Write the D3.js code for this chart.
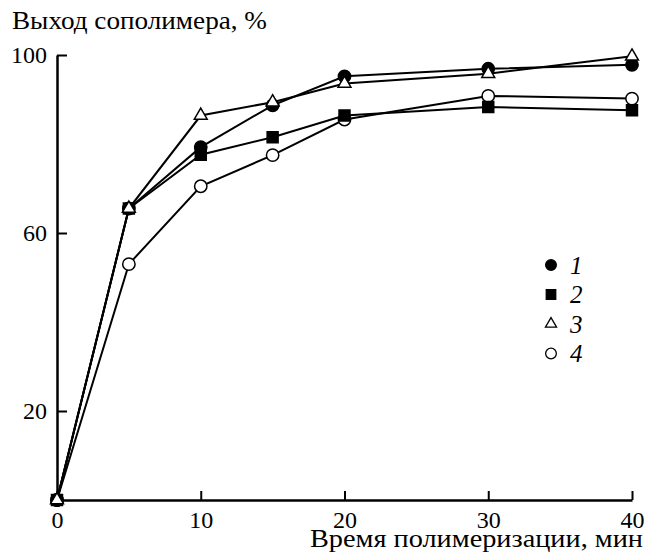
<!DOCTYPE html>
<html>
<head>
<meta charset="utf-8">
<script src="https://cdn.jsdelivr.net/npm/d3@7"></script>
</head>
<body style="margin:0;background:#fff">
<svg id="chart" width="647" height="558"></svg>
<script>
const times = [0, 5, 10, 15, 20, 30, 40]
const yield1 = [0, 65.5, 79.3, 88.7, 95.2, 96.9, 97.8]
const yield2 = [0, 65.5, 77.6, 81.5, 86.4, 88.3, 87.6]
const yield3 = [0, 65.5, 86.4, 89.4, 93.6, 95.8, 99.7]
const yield4 = [0, 53.0, 70.5, 77.5, 85.5, 90.8, 90.2]
const seriesNames = ['1', '2', '3', '4']
const xTicks = [0, 10, 20, 30, 40]
const yTicks = [20, 60, 100]

const FONT = "'Liberation Serif'"

const style = {
    pdg: { l: 57, r: 15, t: 55, b: 58 },
    W: 647, H: 558
}

const markers = {
    '1': { type: d3.symbolCircle, size: 120, fill: '#000' },
    '2': { type: d3.symbolSquare, size: 120, fill: '#000' },
    '3': { type: d3.symbolTriangle, size: 72, fill: '#fff' },
    '4': { type: d3.symbolCircle, size: 120, fill: '#fff' }
}

let series = [
    { name: '4', vals: yield4 },
    { name: '2', vals: yield2 },
    { name: '1', vals: yield1 },
    { name: '3', vals: yield3 }
]

let svg = d3.select('#chart')

let x = d3.scaleLinear().domain([0, 40]).range([style.pdg.l, style.W - style.pdg.r])
let y = d3.scaleLinear().domain([0, 100]).range([style.H - style.pdg.b, style.pdg.t])

let xAxis = d3.axisBottom(x).tickValues(xTicks).tickSize(-9).tickPadding(11).tickSizeOuter(0)
let yAxis = d3.axisLeft(y).tickValues(yTicks).tickSize(-10).tickPadding(10).tickSizeOuter(0)

let xAxisG = svg.append('g')
    .attr('transform', 'translate(0,' + y(0) + ')')
    .call(xAxis)
xAxisG.select('.domain').attr('stroke-width', 2.5)
xAxisG.selectAll('.tick line').attr('stroke-width', 2)

let yAxisG = svg.append('g')
    .attr('transform', 'translate(' + x(0) + ',0)')
    .call(yAxis)
yAxisG.select('.domain').attr('stroke-width', 2.5)
yAxisG.selectAll('.tick line').attr('stroke-width', 2)

svg.selectAll('.tick text')
    .style('font-family', FONT)
    .style('font-size', '24px')
    .attr('fill', '#000')

svg.append('text')
    .attr('x', 12)
    .attr('y', 29)
    .attr('textLength', 255)
    .attr('lengthAdjust', 'spacingAndGlyphs')
    .style('font-family', FONT)
    .style('font-size', '25px')
    .text('Выход сополимера, %')

svg.append('text')
    .attr('x', 310)
    .attr('y', 547)
    .attr('textLength', 333)
    .attr('lengthAdjust', 'spacingAndGlyphs')
    .style('font-family', FONT)
    .style('font-size', '25px')
    .text('Время полимеризации, мин')

let line = d3.line()
    .x((d, i) => x(times[i]))
    .y(d => y(d))

let seriesG = svg.append('g')

seriesG.selectAll('.seriesLine')
    .data(series)
    .enter()
    .append('path')
    .classed('seriesLine', true)
    .attr('d', d => line(d.vals))
    .attr('fill', 'none')
    .attr('stroke', '#000')
    .attr('stroke-width', 2)

let symbol = d3.symbol()

series.forEach(s => {
    let m = markers[s.name]
    seriesG.append('g')
        .selectAll('path')
        .data(s.vals)
        .enter()
        .append('path')
        .attr('transform', (d, i) => 'translate(' + [x(times[i]), y(d)] + ')')
        .attr('d', symbol.type(m.type).size(m.size)())
        .attr('fill', m.fill)
        .attr('stroke', '#000')
        .attr('stroke-width', 1.5)
})

// legend
let legendG = svg.append('g')
    .attr('transform', 'translate(551,265)')

let legendItems = legendG.selectAll('g')
    .data(seriesNames)
    .enter()
    .append('g')
    .attr('transform', (d, i) => 'translate(0,' + i * 29.5 + ')')

legendItems.append('path')
    .attr('d', d => d3.symbol().type(markers[d].type).size(markers[d].size * 0.75)())
    .attr('fill', d => markers[d].fill)
    .attr('stroke', '#000')
    .attr('stroke-width', 1.3)

legendItems.append('text')
    .attr('x', 19)
    .attr('dy', '0.35em')
    .style('font-family', FONT)
    .style('font-size', '25px')
    .style('font-style', 'italic')
    .text(d => d)
</script>
</body>
</html>
